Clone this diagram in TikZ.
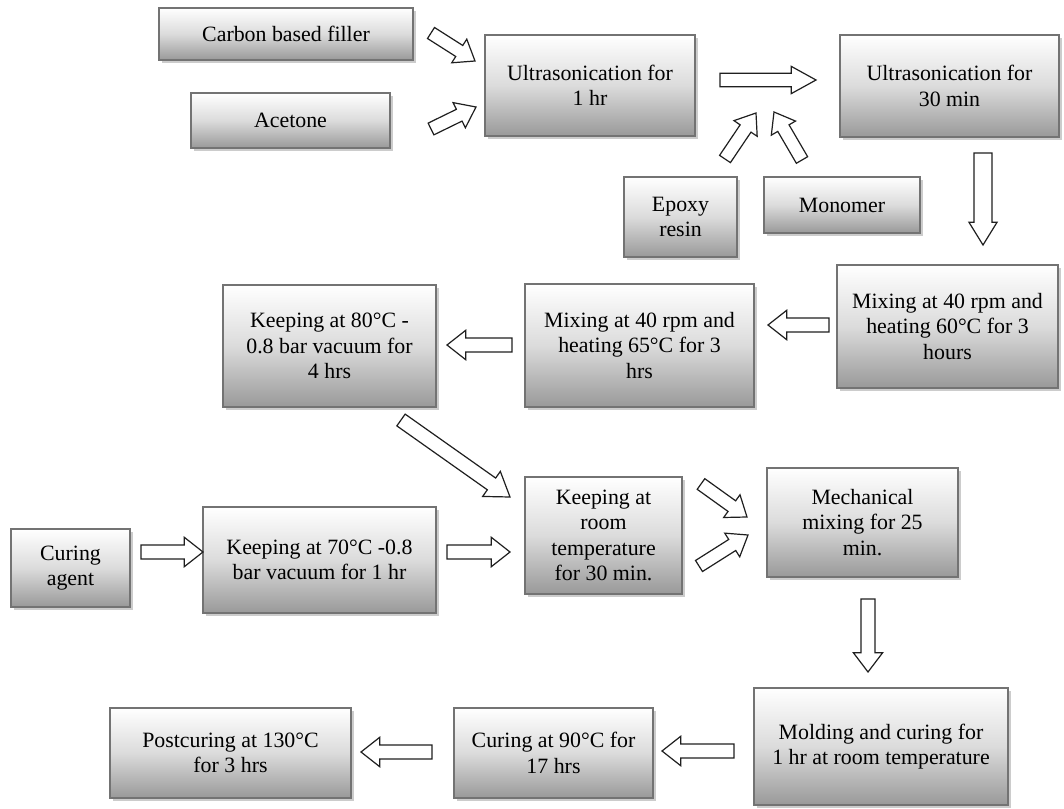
\documentclass[tikz,border=0pt]{standalone}
\usepackage{fontspec}
\setmainfont{Liberation Serif}
\usetikzlibrary{calc,shadows}
\tikzset{
  procbox/.style={draw=black!55, line width=1.1pt, top color=white, bottom color=black!40, middle color=black!14,
    align=center, inner sep=2pt, text=black,
    font=\fontsize{16.4}{19}\selectfont,
    drop shadow={shadow xshift=2.2pt, shadow yshift=-2.2pt, fill=black, opacity=0.2}},
  blockarr/.style={draw=black!88, fill=white, line width=0.9pt, line join=miter}
}
\newcommand\bx[6]{\node[procbox, minimum width={(#4-#2)*0.75pt}, minimum height={(#5-#3)*0.75pt}] (#1) at ({(#2+#4)/2},{(#3+#5)/2}) {#6};}
\newcommand\barrow[5]{%
  \coordinate (bh) at ($(#2)!#5!(#1)$);
  \draw[blockarr] ($(#1)!#3!90:(#2)$) -- ($(bh)!#3!-90:(#1)$) -- ($(bh)!#4!-90:(#1)$) -- (#2)
     -- ($(bh)!#4!90:(#1)$) -- ($(bh)!#3!90:(#1)$) -- ($(#1)!#3!-90:(#2)$) -- cycle;}
\begin{document}
\begin{tikzpicture}[x=0.75pt,y=-0.75pt]
\useasboundingbox (0,0) rectangle (1064,809);
\fill[white] (0,0) rectangle (1064,809);
% boxes
\bx{carbon}{159}{8}{413}{60}{Carbon based filler}
\bx{acetone}{191}{93}{390}{148}{Acetone}
\bx{ultra1}{485}{35}{695}{136}{Ultrasonication for\\1 hr}
\bx{ultra30}{840}{35}{1059}{137}{Ultrasonication for\\30 min}
\bx{epoxy}{624}{177}{737}{257}{Epoxy\\resin}
\bx{monomer}{764}{177}{920}{233}{Monomer}
\bx{mix60}{837}{265}{1058}{388}{Mixing at 40 rpm and\\heating 60°C for 3\\hours}
\bx{mix65}{525}{284}{754}{407}{Mixing at 40 rpm and\\heating 65°C for 3\\hrs}
\bx{keep80}{223}{285}{436}{407}{Keeping at 80°C -\\0.8 bar vacuum for\\4 hrs}
\bx{curing}{11}{529}{130}{607}{Curing\\agent}
\bx{keep70}{203}{507}{436}{613}{Keeping at 70°C -0.8\\bar vacuum for 1 hr}
\bx{keeproom}{525}{477}{682}{594}{Keeping at\\room\\temperature\\for 30 min.}
\bx{mech}{767}{468}{958}{577}{Mechanical\\mixing for 25\\min.}
\bx{molding}{754}{688}{1008}{805}{Molding and curing for\\1 hr at room temperature}
\bx{curing90}{454}{708}{653}{798}{Curing at 90°C for\\17 hrs}
\bx{post}{110}{708}{351}{798}{Postcuring at 130°C\\for 3 hrs}
% arrow end points
\coordinate (a1s) at (431,33);  \coordinate (a1e) at (475,61);
\coordinate (a2s) at (431,129); \coordinate (a2e) at (476,107);
\coordinate (a3s) at (720,80);  \coordinate (a3e) at (816,80);
\coordinate (a4s) at (725,159); \coordinate (a4e) at (756,113);
\coordinate (a5s) at (802,160); \coordinate (a5e) at (774,112);
\coordinate (a6s) at (983,153); \coordinate (a6e) at (983,245);
\coordinate (a7s) at (829,325); \coordinate (a7e) at (768,325);
\coordinate (a8s) at (512,345); \coordinate (a8e) at (447,345);
\coordinate (a9s) at (401,420); \coordinate (a9e) at (510,497);
\coordinate (a10s) at (141,552); \coordinate (a10e) at (203,552);
\coordinate (a11s) at (447,552); \coordinate (a11e) at (510,552);
\coordinate (a12s) at (701,484); \coordinate (a12e) at (747,517);
\coordinate (a13s) at (699,566); \coordinate (a13e) at (748,535);
\coordinate (a14s) at (868,599); \coordinate (a14e) at (868,672);
\coordinate (a15s) at (734,751); \coordinate (a15e) at (662,751);
\coordinate (a16s) at (432,752); \coordinate (a16e) at (361,752);
% arrows
\barrow{a1s}{a1e}{4.9pt}{10.5pt}{14pt}
\barrow{a2s}{a2e}{4.9pt}{10.5pt}{14pt}
\barrow{a3s}{a3e}{5pt}{10.2pt}{18.5pt}
\barrow{a4s}{a4e}{4.9pt}{10.5pt}{14pt}
\barrow{a5s}{a5e}{4.9pt}{10.5pt}{14pt}
\barrow{a6s}{a6e}{6.8pt}{10.5pt}{17pt}
\barrow{a7s}{a7e}{5.2pt}{11pt}{14pt}
\barrow{a8s}{a8e}{5.2pt}{11pt}{14pt}
\barrow{a9s}{a9e}{5.4pt}{11.5pt}{17pt}
\barrow{a10s}{a10e}{5.2pt}{11pt}{14pt}
\barrow{a11s}{a11e}{5.2pt}{11pt}{14pt}
\barrow{a12s}{a12e}{4.9pt}{10.5pt}{14pt}
\barrow{a13s}{a13e}{4.9pt}{10.5pt}{14pt}
\barrow{a14s}{a14e}{5.2pt}{11pt}{14.5pt}
\barrow{a15s}{a15e}{5.2pt}{11pt}{14pt}
\barrow{a16s}{a16e}{5.2pt}{11pt}{14pt}
\end{tikzpicture}
\end{document}
